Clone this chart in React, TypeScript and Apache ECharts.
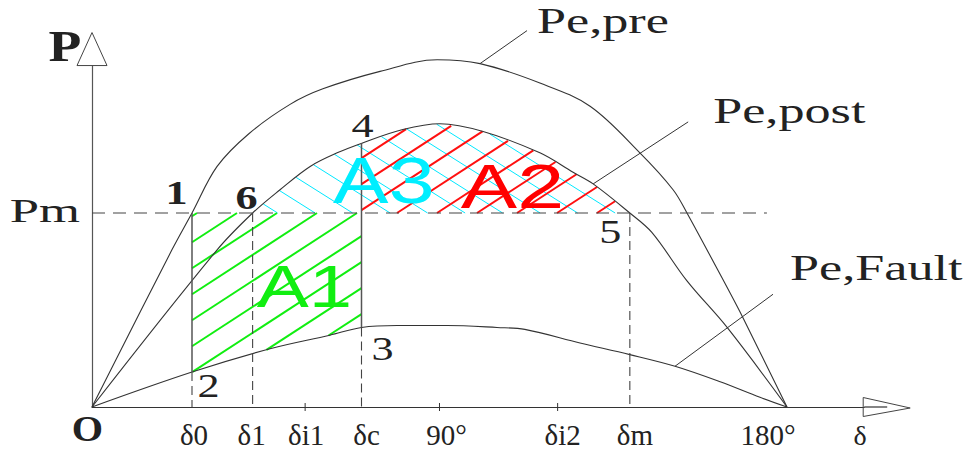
import { useEffect, useRef } from "react";
import * as echarts from "echarts";

// Power–angle characteristics: δ in degrees, P in per-unit of the mechanical power Pm.
const PM = 1;

const preAngle = [0, 20.7, 25.9, 32.4, 40.7, 51.3, 59.8, 74.6, 89.4, 100.5, 116, 129, 141.9, 150.5, 154.1, 165.2, 168.6, 180];
const prePower = [0, 0.81, 1.0, 1.24, 1.41, 1.56, 1.64, 1.73, 1.79, 1.77, 1.67, 1.55, 1.31, 1.12, 1.0, 0.59, 0.46, 0];

const postAngle = [0, 32.4, 41.6, 48.7, 56.5, 63.5, 69.9, 80.5, 90.1, 101.3, 116, 124.6, 129.8, 139.3, 145, 154.1, 164.5, 180];
const postPower = [0, 0.81, 1.0, 1.12, 1.24, 1.31, 1.36, 1.43, 1.46, 1.42, 1.31, 1.21, 1.15, 1.0, 0.9, 0.65, 0.41, 0];

const faultAngle = [0, 25.9, 46.1, 61.6, 69.8, 79, 91.9, 104.9, 112.1, 126.4, 139.3, 151, 162.7, 173, 180];
const faultPower = [0, 0.18, 0.3, 0.37, 0.41, 0.42, 0.42, 0.41, 0.4, 0.33, 0.27, 0.21, 0.13, 0.05, 0];

// Characteristic angles
const delta0 = 25.9;
const delta1 = 41.6;
const deltaI1 = 55.2;
const deltaC = 69.8;
const deltaI2 = 120.6;
const deltaM = 139.3;

const tickAngles = [delta0, delta1, deltaI1, deltaC, 90, deltaI2, deltaM, 180];
const tickLabels = ["δ0", "δ1", "δi1", "δc", "90°", "δi2", "δm", "180°"];
const minorTicks = [deltaI1, 90, deltaI2];

// ---- layout ----
const X_MAX = 200;
const Y_MAX = 1.76;
const PX_PER_DEG = 3.861;
const PX_PER_PU = 194;
const ORIGIN_X = 92;
const ORIGIN_Y = 407;

const SERIF = "'Liberation Serif', 'Times New Roman', serif";
const SANS = "'Liberation Sans', Arial, sans-serif";
const INK = "#222";
const LINE = "#333";

type Pt = number[];

function valueAt(xs: number[], ys: number[], x: number): number {
  for (let i = 1; i < xs.length; i++) {
    if (x <= xs[i]) {
      const t = (x - xs[i - 1]) / (xs[i] - xs[i - 1]);
      return ys[i - 1] + t * (ys[i] - ys[i - 1]);
    }
  }
  return ys[ys.length - 1];
}

function slice(xs: number[], ys: number[], a: number, b: number): Pt[] {
  const pts: Pt[] = [[a, valueAt(xs, ys, a)]];
  xs.forEach((x, i) => {
    if (x > a && x < b) pts.push([x, ys[i]]);
  });
  pts.push([b, valueAt(xs, ys, b)]);
  return pts;
}

const pairs = (xs: number[], ys: number[]) => xs.map((x, i) => [x, ys[i]]);

// Parallel hatch lines y = y0 + m (x - c), clipped to a pixel polygon
function hatch(poly: Pt[], m: number, x0: number, y0: number, step: number, stroke: string, lineWidth: number) {
  const cs = poly.map((p) => p[0] - (p[1] - y0) / m);
  const cmin = Math.min(...cs);
  const cmax = Math.max(...cs);
  const k0 = Math.ceil((cmin - x0) / step);
  const k1 = Math.floor((cmax - x0) / step);
  const out: any[] = [];
  for (let k = k0; k <= k1; k++) {
    const c = x0 + k * step;
    const f = (p: Pt) => p[1] - y0 - m * (p[0] - c);
    const hits: Pt[] = [];
    for (let i = 0; i < poly.length; i++) {
      const a = poly[i];
      const b = poly[(i + 1) % poly.length];
      const fa = f(a);
      const fb = f(b);
      if ((fa < 0 && fb >= 0) || (fa >= 0 && fb < 0)) {
        const t = fa / (fa - fb);
        hits.push([a[0] + t * (b[0] - a[0]), a[1] + t * (b[1] - a[1])]);
      }
    }
    hits.sort((p, q) => p[0] - q[0]);
    for (let j = 0; j + 1 < hits.length; j += 2) {
      out.push({
        type: "line",
        shape: { x1: hits[j][0], y1: hits[j][1], x2: hits[j + 1][0], y2: hits[j + 1][1] },
        style: { stroke, lineWidth },
      });
    }
  }
  return out;
}

function text(x: number, y: number, str: string, size: number, o: any = {}) {
  return {
    type: "text",
    x,
    y,
    scaleX: o.sx ?? 1,
    style: {
      text: str,
      x: 0,
      y: 0,
      fill: o.color ?? INK,
      fontSize: size,
      fontFamily: o.family ?? SERIF,
      fontWeight: o.weight ?? "normal",
      align: o.align ?? "center",
      verticalAlign: "middle",
    },
  };
}

function seg(a: Pt, b: Pt, stroke: string, lineWidth: number, dash?: number[]) {
  return {
    type: "line",
    shape: { x1: a[0], y1: a[1], x2: b[0], y2: b[1] },
    style: { stroke, lineWidth, lineDash: dash ?? null },
  };
}

// Shaded areas: A1 (acceleration), A2 (deceleration), A3 (remaining margin)
function renderHatch(_params: any, api: any) {
  const toPx = (pts: Pt[]) => pts.map((p) => api.coord(p));
  const a1 = toPx([[delta0, PM], [deltaC, PM], ...slice(faultAngle, faultPower, delta0, deltaC).reverse()]);
  const a2 = toPx([[deltaC, PM], [deltaM, PM], ...slice(postAngle, postPower, deltaC, deltaM).reverse()]);
  const a23 = toPx([[delta1, PM], [deltaM, PM], ...slice(postAngle, postPower, delta1, deltaM).reverse()]);
  const pmY = api.coord([0, PM])[1];
  const x0 = api.coord([delta0, PM])[0];
  const x1 = api.coord([delta1, PM])[0];
  return {
    type: "group",
    children: [
      ...hatch(a23, 0.63, x1 + 25, pmY, 37.5, "#00e8ff", 1),
      ...hatch(a1, -0.65, x0 + 45, pmY, 40, "#11ee11", 2),
      ...hatch(a2, -0.65, x0 + 45, pmY, 40, "#ff1010", 2),
    ],
  };
}

const pointLabels = [
  { t: "1", at: () => [delta0, PM], dx: -15.5, dy: -20.5, bold: true },
  { t: "6", at: () => [delta1, PM], dx: -6, dy: -15.5, bold: true },
  { t: "4", at: () => [deltaC, valueAt(postAngle, postPower, deltaC)], dx: 1, dy: -17.5 },
  { t: "2", at: () => [delta0, valueAt(faultAngle, faultPower, delta0)], dx: 16.5, dy: 13.5 },
  { t: "3", at: () => [deltaC, valueAt(faultAngle, faultPower, deltaC)], dx: 21, dy: 21.5 },
  { t: "5", at: () => [deltaM, PM], dx: -19.5, dy: 18.5 },
];

const areaLabels = [
  { t: "A1", at: [55.0, 0.62], size: 60, sx: 1.3, color: "#11ee11" },
  { t: "A3", at: [75.6, 1.165], size: 64, sx: 1.3, color: "#00eeff" },
  { t: "A2", at: [108.9, 1.137], size: 63, sx: 1.34, color: "#ff0000" },
];

const callouts = [
  { t: "Pe,pre", xs: preAngle, ys: prePower, angle: 100.5, dx: 47, dy: -33, tx: 10, ty: -9.5 },
  { t: "Pe,post", xs: postAngle, ys: postPower, angle: 129.8, dx: 95, dy: -62, tx: 25, ty: -10.5 },
  { t: "Pe,Fault", xs: faultAngle, ys: faultPower, angle: 151.0, dx: 98, dy: -72, tx: 17, ty: -26 },
];

const tickLabelShift: Record<string, number> = { "δ0": 2, "δ1": -1, "δi1": 1, "δc": 5, "90°": 7, "δi2": 5, "δm": 5, "180°": -19 };

function renderAnnotations(_params: any, api: any) {
  const c = (x: number, y: number) => api.coord([x, y]);
  const els: any[] = [];
  const o = c(0, 0);

  // axis arrow heads
  const yTop = c(0, Y_MAX);
  els.push({
    type: "polygon",
    shape: { points: [[yTop[0] - 15, yTop[1]], [yTop[0] + 15, yTop[1]], [yTop[0], yTop[1] - 33]] },
    style: { fill: "#fff", stroke: "#444", lineWidth: 1 },
  });
  const xEnd = c(X_MAX, 0);
  els.push(seg(xEnd, [xEnd[0] + 23, xEnd[1]], LINE, 1.2));
  els.push({
    type: "polygon",
    shape: { points: [[xEnd[0] - 1, xEnd[1] - 9.5], [xEnd[0] - 1, xEnd[1] + 9.5], [xEnd[0] + 46, xEnd[1] + 1]] },
    style: { fill: "none", stroke: "#444", lineWidth: 1 },
  });

  // Pm level
  els.push(seg(c(0, PM), c(174.8, PM), "#444", 1.1, [13, 8]));

  // boundaries of the shaded areas and the angle markers
  const f0 = valueAt(faultAngle, faultPower, delta0);
  const fc = valueAt(faultAngle, faultPower, deltaC);
  const pc = valueAt(postAngle, postPower, deltaC);
  els.push(seg(c(delta0, PM), c(delta0, f0), "#555", 1.5));
  els.push(seg(c(delta0, f0), c(delta0, 0), "#444", 1.1, [9, 5]));
  els.push(seg(c(deltaC, pc), c(deltaC, fc), "#555", 1.5));
  els.push(seg(c(deltaC, fc), c(deltaC, 0), "#444", 1.1, [9, 5]));
  els.push(seg(c(delta1, PM), c(delta1, 0), "#444", 1.1, [9, 5]));
  els.push(seg(c(deltaM, PM), c(deltaM, 0), "#444", 1.1, [9, 5]));

  // small ticks
  minorTicks.forEach((a) => {
    const p = c(a, 0);
    els.push(seg([p[0], p[1] - 4], [p[0], p[1] + 4], LINE, 1));
  });

  // angle labels under the axis
  tickAngles.forEach((a, i) => {
    const p = c(a, 0);
    const lab = tickLabels[i];
    els.push(text(p[0] + (tickLabelShift[lab] ?? 0), p[1] + 27.5, lab, 29));
  });
  els.push(text(xEnd[0] - 4, xEnd[1] + 28, "δ", 28));

  // axis names
  els.push(text(yTop[0] - 27, yTop[1] - 19, "P", 44, { weight: "bold", sx: 1.22 }));
  els.push(text(o[0] - 4.5, o[1] + 22, "O", 36, { weight: "bold", sx: 1.12 }));
  const pm = c(0, PM);
  els.push(text(pm[0] - 12, pm[1] - 3, "Pm", 34, { align: "right", sx: 1.55 }));

  // numbered operating points
  pointLabels.forEach((l) => {
    const a = l.at();
    const p = c(a[0], a[1]);
    els.push(text(p[0] + l.dx, p[1] + l.dy, l.t, 34, { sx: 1.3, weight: l.bold ? "bold" : "normal" }));
  });

  // area names
  areaLabels.forEach((l) => {
    const p = c(l.at[0], l.at[1]);
    els.push(text(p[0], p[1], l.t, l.size, { sx: l.sx, color: l.color, family: SANS }));
  });

  // curve callouts
  callouts.forEach((l) => {
    const p = c(l.angle, valueAt(l.xs, l.ys, l.angle));
    const e = [p[0] + l.dx, p[1] + l.dy];
    els.push(seg(p, e, LINE, 1));
    els.push(text(e[0] + l.tx, e[1] + l.ty, l.t, 36, { align: "left", sx: 1.45 }));
  });

  return { type: "group", children: els };
}

const curveStyle = { color: LINE, width: 1.1 };
const curve = (name: string, xs: number[], ys: number[]) => ({
  type: "line",
  name,
  z: 2,
  data: pairs(xs, ys),
  symbol: "none",
  smooth: 0.35,
  clip: false,
  lineStyle: curveStyle,
});

const option: any = {
  animation: false,
  backgroundColor: "#fff",
  grid: {
    left: ORIGIN_X,
    top: ORIGIN_Y - Y_MAX * PX_PER_PU,
    width: X_MAX * PX_PER_DEG,
    height: Y_MAX * PX_PER_PU,
  },
  xAxis: {
    type: "value",
    min: 0,
    max: X_MAX,
    axisLine: { show: true, lineStyle: { color: LINE, width: 1.2 } },
    axisTick: { show: false },
    axisLabel: { show: false },
    splitLine: { show: false },
  },
  yAxis: {
    type: "value",
    min: 0,
    max: Y_MAX,
    axisLine: { show: true, lineStyle: { color: "#555", width: 1.2 } },
    axisTick: { show: false },
    axisLabel: { show: false },
    splitLine: { show: false },
  },
  series: [
    { type: "custom", z: 1, data: [[0, 0]], renderItem: renderHatch, silent: true },
    curve("Pe,pre", preAngle, prePower),
    curve("Pe,post", postAngle, postPower),
    curve("Pe,Fault", faultAngle, faultPower),
    { type: "custom", z: 3, data: [[0, 0]], renderItem: renderAnnotations, silent: true },
  ],
};

export default function App() {
  const ref = useRef<HTMLDivElement>(null);
  useEffect(() => {
    const chart = echarts.init(ref.current!, null, { renderer: "svg" });
    chart.setOption(option);
    return () => chart.dispose();
  }, []);
  return (
    <div
      ref={ref}
      style={{ position: "fixed", left: 0, top: 0, width: 974, height: 450, background: "#fff" }}
    />
  );
}
